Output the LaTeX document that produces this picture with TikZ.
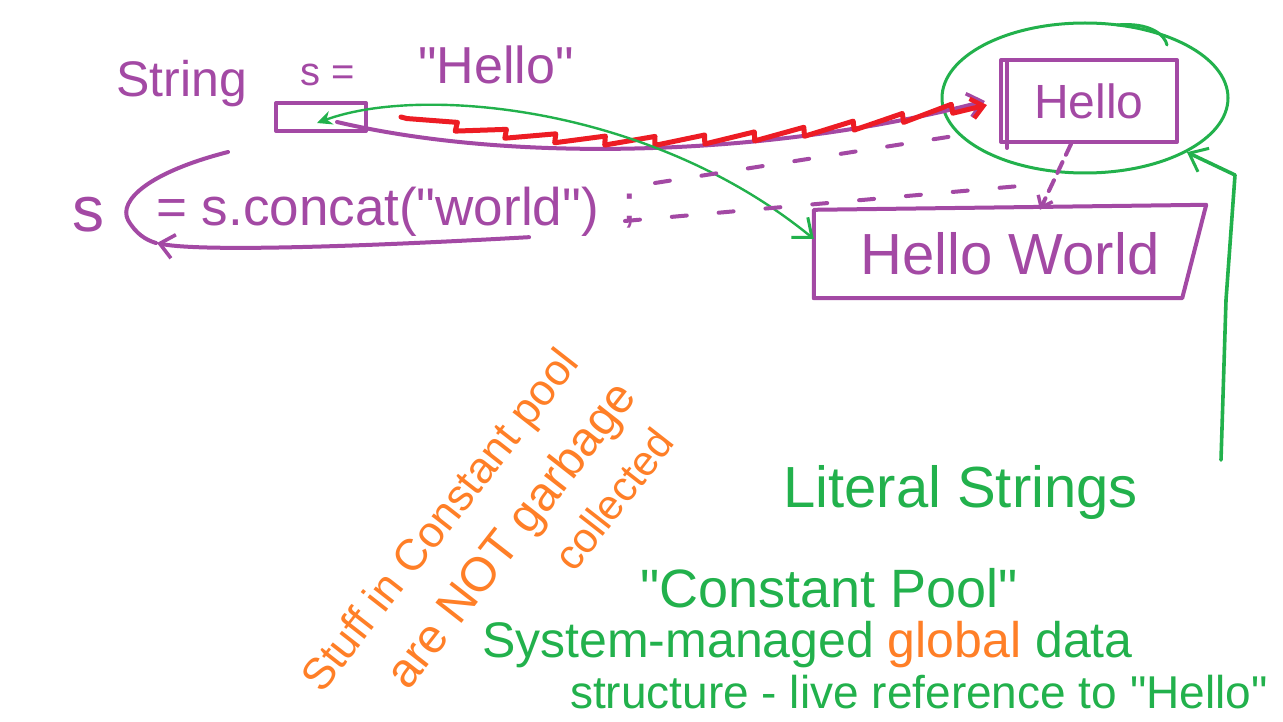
\documentclass[tikz,border=0pt]{standalone}
\usepackage{fontspec}
\setmainfont{Liberation Sans}[Ligatures=TeXOff]
\usetikzlibrary{arrows.meta,shapes.geometric,decorations.pathmorphing}
\definecolor{ppurple}{HTML}{A349A4}
\definecolor{pgreen}{HTML}{22B14C}
\definecolor{pred}{HTML}{ED1C24}
\definecolor{porange}{HTML}{FF7F27}
\newcommand{\fsz}[1]{\fontsize{#1}{#1}\selectfont}
\begin{document}
\begin{tikzpicture}[x=1pt,y=-1pt,
  purp/.style={draw=ppurple, line width=4pt, line cap=round, line join=round},
  grn/.style={draw=pgreen, line width=2.4pt, line cap=round, line join=round},
  redl/.style={draw=pred, line width=5pt, line cap=round, line join=round},
  ptxt/.style={text=ppurple, inner sep=0pt},
  gtxt/.style={text=pgreen, inner sep=0pt},
  otxt/.style={text=porange, inner sep=0pt},
  pbarb/.style={-{Straight Barb[length=14pt,width=24pt,line width=3.6pt]}},
  gbarb/.style={-{Straight Barb[length=16pt,width=26pt,line width=3pt]}},
  dsh/.style={dash pattern=on 15pt off 32pt},
]
\useasboundingbox (0,0) rectangle (1283,722);
\fill[white] (0,0) rectangle (1283,722);

% --- first code line
\node[ptxt, anchor=base west, font=\fsz{50}] (str) at (116,97) {String};
\node[ptxt, anchor=base west, font=\fsz{40}] (seq) at (300,86) {s =};
\node[ptxt, anchor=base west, font=\fsz{52}] (hlit) at (418,84) {"Hello"};
\node[purp, minimum width=90pt, minimum height=28pt, inner sep=0pt] (sbox) at (321,117) {};

% --- second code line
\node[ptxt, anchor=base west, font=\fsz{64}] (s2) at (72,232) {s};
\node[ptxt, anchor=base west, font=\fsz{53}] (cc) at (156,226) {= s.concat("world")};
\node[ptxt, anchor=base west, font=\fsz{52}] (semi) at (622,222) {;};
\draw[purp] (228,152) .. controls (150,172) and (118,200) .. (128,220) .. controls (136,234) and (146,240) .. (156,243);
\draw[purp, pbarb] ([xshift=-70pt]cc.south east) .. controls (300,250) and (190,250) .. (157,243);

% --- heap boxes
\node[purp, minimum width=176pt, minimum height=82pt, inner sep=0pt, text=ppurple, font=\fsz{48}] (hello) at (1089,101) {Hello};
\draw[purp] ([xshift=8pt,yshift=-3pt]hello.north west) -- ([xshift=8pt,yshift=-4pt]hello.south west);
\node[minimum width=392pt, minimum height=88pt, inner sep=0pt, text=ppurple, font=\fsz{58}] (hw) at (1010,254) {Hello World};
\draw[purp] (hw.north west) -- ([yshift=5pt]hw.north east) -- ([xshift=-24pt]hw.south east) -- (hw.south west) -- cycle;

\node[draw=pgreen, line width=3pt, ellipse, minimum width=286pt, minimum height=150pt, inner sep=0pt] (pool) at (1085,98) {};
\draw[grn, line width=3pt] (1117,25) .. controls (1150,22) and (1165,35) .. (1167,45);

% --- references
\draw[purp, pbarb] ([xshift=16pt,yshift=-5pt]sbox.center) .. controls (520,165) and (780,155) .. ([xshift=-14pt]hello.west);
\draw[redl, decorate, decoration={saw, amplitude=9pt, segment length=50pt, pre length=6pt, post length=14pt},
      -{Straight Barb[length=12pt,width=20pt,line width=4.5pt]}]
  ([xshift=80pt]sbox.center) .. controls (560,160) and (790,150) .. ([xshift=-12pt,yshift=-4pt]hello.west);
\draw[grn, {Stealth[length=15pt,width=14pt]}-{Straight Barb[length=16pt,width=26pt,line width=3pt]}]
  ([xshift=-4pt,yshift=-6pt]sbox.center) .. controls (420,85) and (650,105) .. ([yshift=15pt]hw.west);

% --- dashed derivations
\coordinate (d1s) at (655,183);
\coordinate (d2s) at (625,221);
\draw[purp, dsh] (d1s) -- ([xshift=-32pt,yshift=10pt]hello.south west);
\draw[purp, dsh] (d2s) -- ([xshift=12pt,yshift=24pt]hw.north);
\draw[purp, dash pattern=on 12pt off 8pt, -{Straight Barb[length=10pt,width=16pt,line width=3.4pt]}] ([xshift=-18pt]hello.south) -- ([xshift=30pt]hw.north);

% --- green notes
\node[gtxt, anchor=base west, font=\fsz{58}] (lit) at (783,507) {Literal Strings};
\node[gtxt, anchor=base west, font=\fsz{54}] (cp) at (640,607) {"Constant Pool"};
\node[gtxt, anchor=base west, font=\fsz{50}] (sys) at (482,657) {System-managed \textcolor{porange}{global} data};
\node[gtxt, anchor=base west, font=\fsz{46}] (str2) at (570,708) {structure - live reference to "Hello"};
\coordinate (lsc) at (1221,460);
\draw[grn, line width=3.6pt, gbarb] (lsc) -- (1226,300) -- (1235,175) -- (pool.-28);

% --- orange note
\node[otxt, anchor=base west, rotate=52, font=\fsz{44}] (o1) at (322,695) {Stuff in Constant pool};
\node[otxt, anchor=base west, rotate=52, font=\fsz{48}] (o2) at (408,692) {are NOT garbage};
\node[otxt, anchor=base west, rotate=52, font=\fsz{42}] (o3) at (574,574) {collected};
\end{tikzpicture}
\end{document}
